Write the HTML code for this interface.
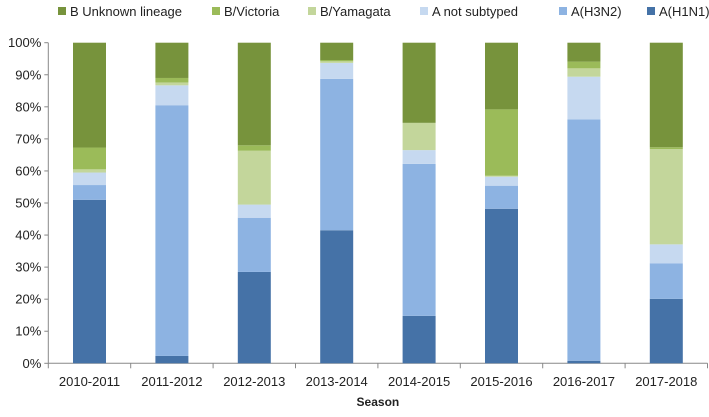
<!DOCTYPE html>
<html><head><meta charset="utf-8"><style>
body{margin:0;background:#fff;font-family:"Liberation Sans",sans-serif}
svg text{font-family:"Liberation Sans",sans-serif;fill:#222}
</style></head><body>
<svg id="chart" width="709" height="412"></svg>
<script>
const categories=["2010-2011","2011-2012","2012-2013","2013-2014","2014-2015","2015-2016","2016-2017","2017-2018"];
const seriesNames=["A(H1N1)","A(H3N2)","A not subtyped","B/Yamagata","B/Victoria","B Unknown lineage"];
const h1n1=[51,2.3,28.5,41.5,14.8,48.2,0.8,20.1];
const h3n2=[4.6,78.2,16.9,47.2,47.4,7.2,75.3,11.1];
const notSubtyped=[3.9,6.2,4.1,5.0,4.3,2.8,13.3,5.9];
const yamagata=[1.0,0.9,16.8,0.5,8.5,0.3,2.6,29.7];
const victoria=[6.8,1.4,1.7,0.4,0,20.7,2.1,0.6];
const unknown=[32.7,11.0,32.0,5.4,25.0,20.8,5.9,32.6];
const yTicks=[0,10,20,30,40,50,60,70,80,90,100];
const series=[h1n1,h3n2,notSubtyped,yamagata,victoria,unknown];
const colors=["#4572a7","#8db3e2","#c6d9f0","#c3d69b","#9bbb59","#77933c"];
const NS="http://www.w3.org/2000/svg";
const svg=document.getElementById("chart");
const x0=48.3,x1=707.5,yTop=42.7,yBot=363.3;
const bw=(x1-x0)/categories.length, barW=33;
function y(v){return yBot-(v/100)*(yBot-yTop);}
function xc(i){return x0+bw*(i+0.5);}
function mk(t,a){const e=document.createElementNS(NS,t);for(const k in a)e.setAttribute(k,a[k]);svg.appendChild(e);return e;}
// y axis
let ax=mk("line",{x1:x0,y1:yTop,x2:x0,y2:yBot,stroke:"#888"});


yTicks.forEach(t=>{
  const tk=mk("line",{x1:x0-4,y1:y(t),x2:x0,y2:y(t),stroke:"#888"});
  
  
  const lb=mk("text",{x:x0-7,y:y(t)+4.5,"text-anchor":"end","font-size":"13"});
  lb.textContent=t+"%";
  
  
});
let xa=mk("line",{x1:x0,y1:yBot,x2:x1,y2:yBot,stroke:"#888"});


for(let i=0;i<=categories.length;i++){
  const tk=mk("line",{x1:x0+bw*i,y1:yBot,x2:x0+bw*i,y2:yBot+5,stroke:"#888"});
  
  
}
categories.forEach((c,i)=>{
  let acc=0;
  series.forEach((s,j)=>{
    const v=s[i];
    if(v>0){
      const r=mk("rect",{x:xc(i)-barW/2,y:y(acc+v),width:barW,height:y(acc)-y(acc+v),fill:colors[j]});
      
      
    }
    acc+=v;
  });
  const lb=mk("text",{x:xc(i),y:386,"text-anchor":"middle","font-size":"13"});
  lb.textContent=c;
  
  
});
const t=mk("text",{x:(x0+x1)/2,y:406,"text-anchor":"middle","font-size":"12","font-weight":"bold"});
t.textContent="Season";


// legend
const legX=[58,212,308,420,559,647];
[5,4,3,2,1,0].forEach((j,k)=>{
  const r=mk("rect",{x:legX[k],y:7,width:8,height:8,fill:colors[j]});
  
  
  const lb=mk("text",{x:legX[k]+12,y:16,"font-size":"13"});
  lb.textContent=seriesNames[j];
  
  
});
</script>
</body></html>
